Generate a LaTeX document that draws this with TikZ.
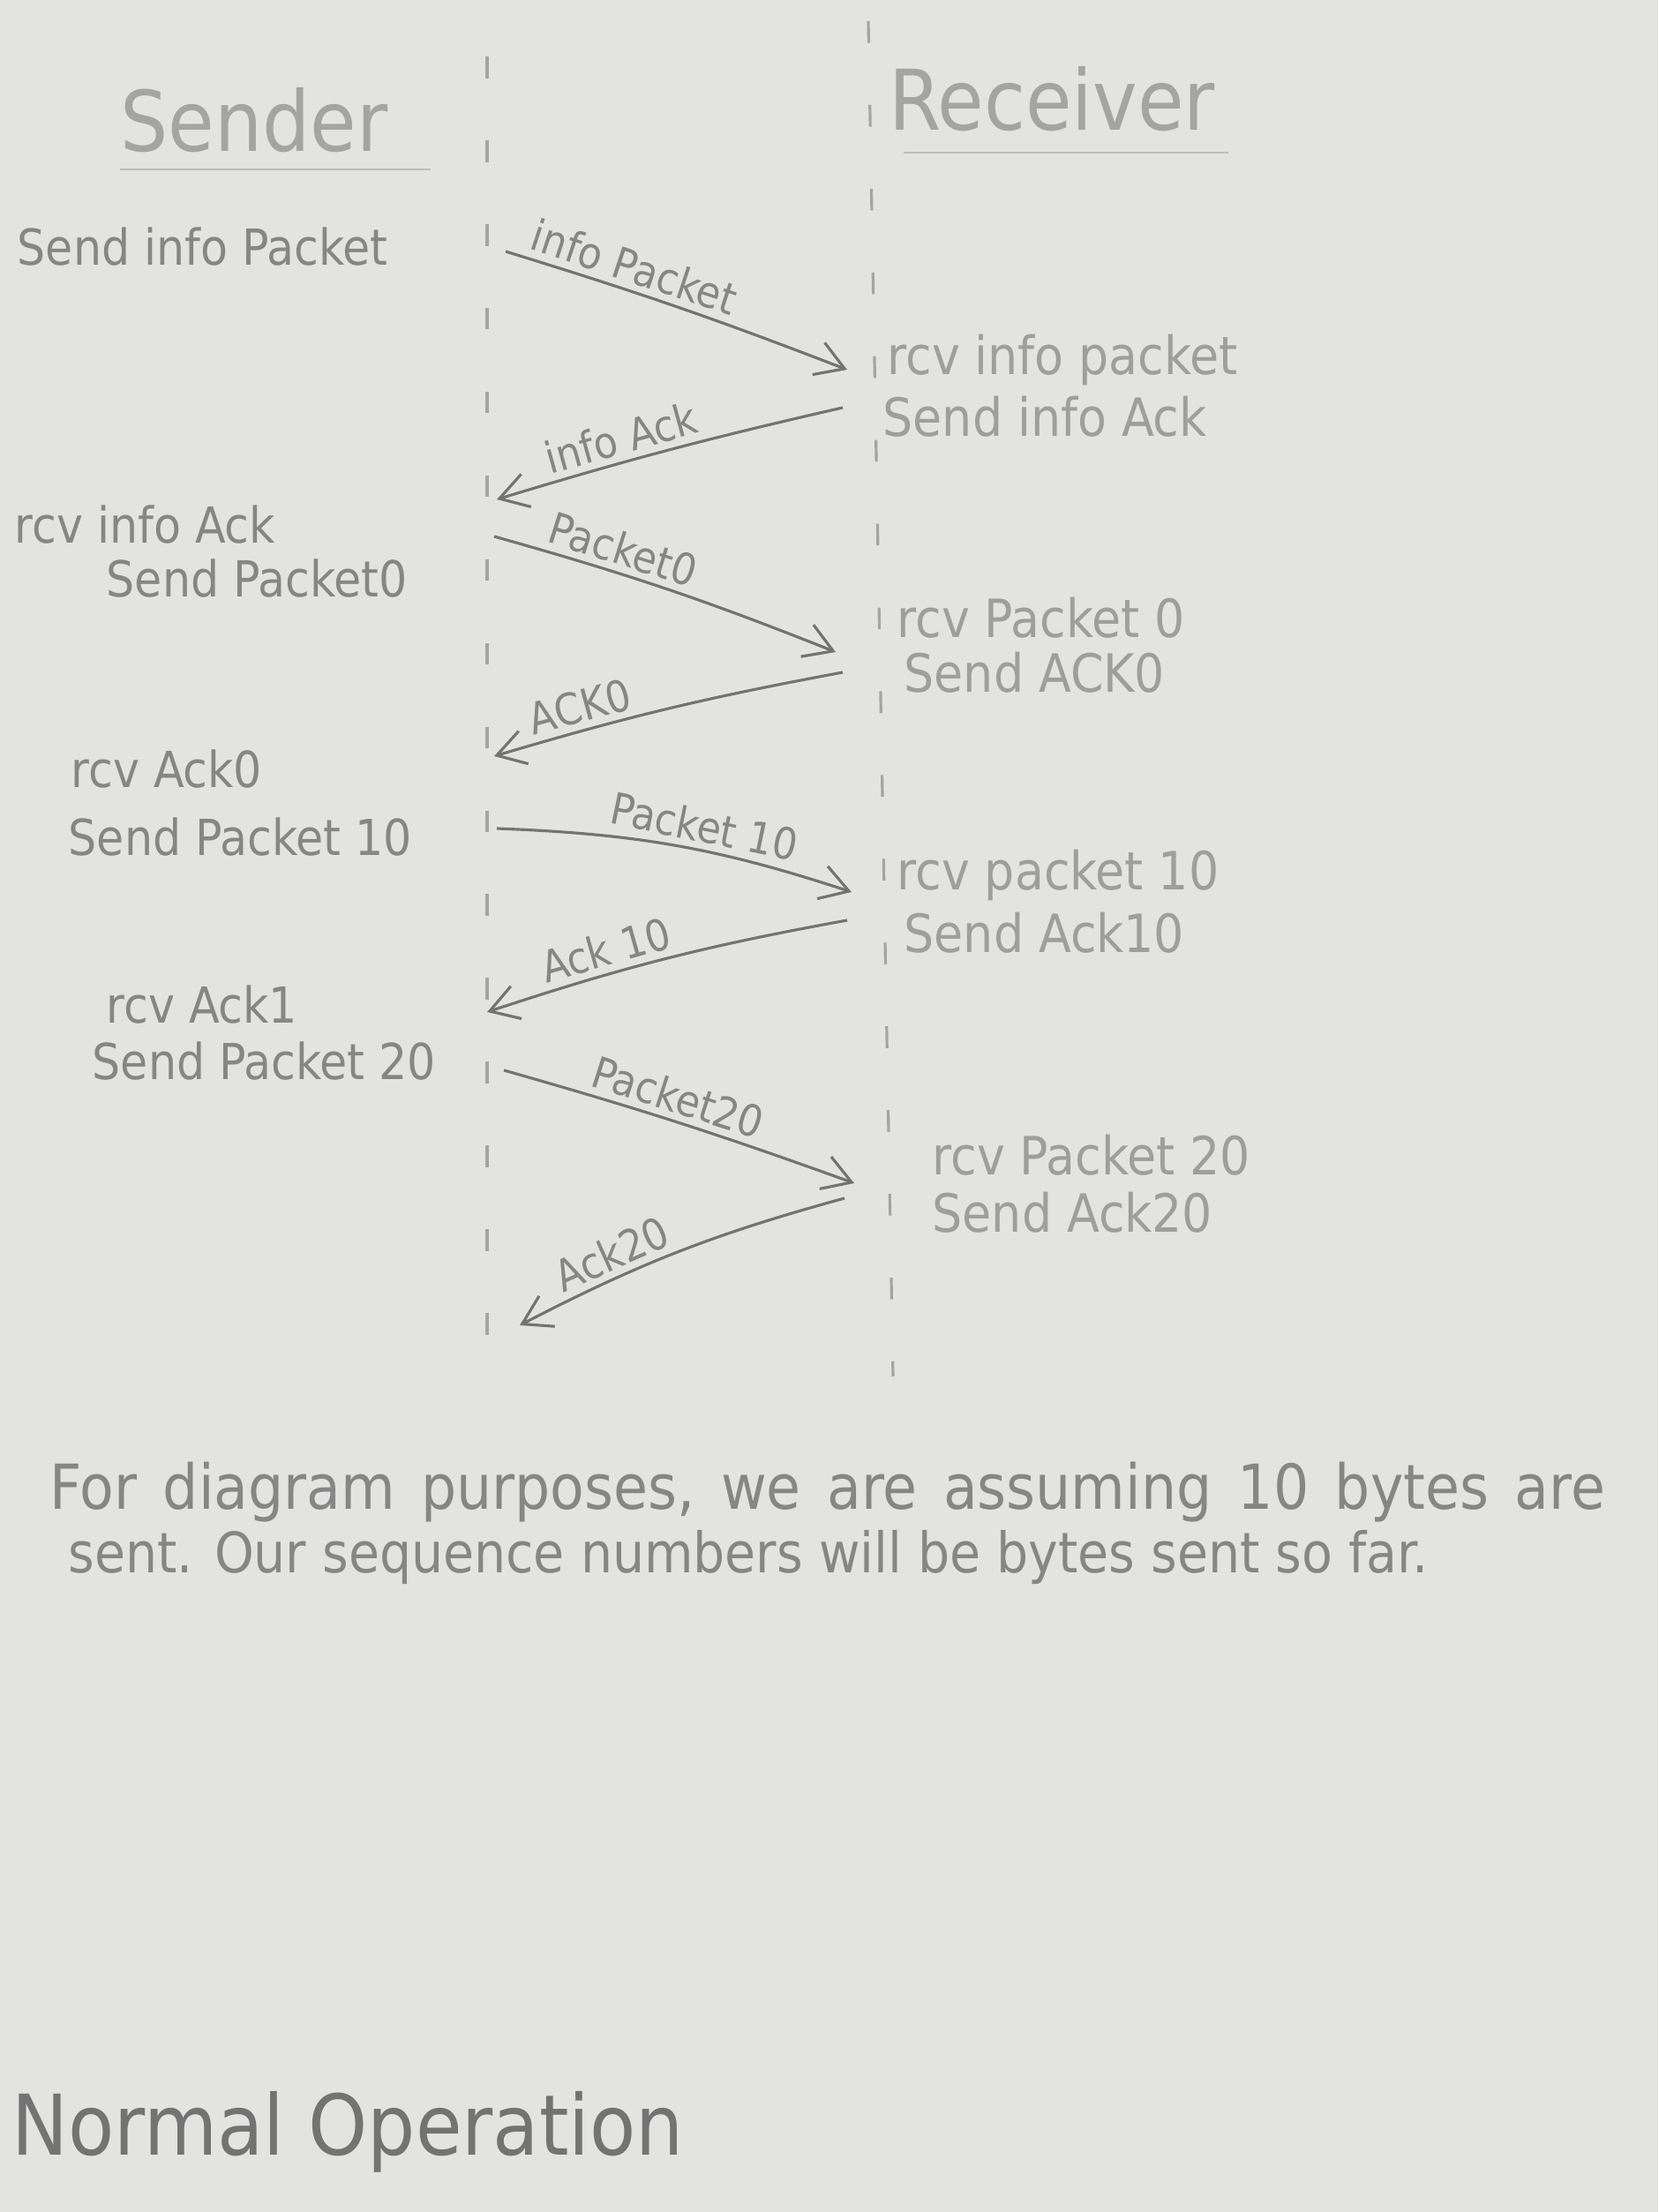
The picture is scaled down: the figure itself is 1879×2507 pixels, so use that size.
\documentclass[tikz,border=0pt]{standalone}
\usepackage{fontspec}
\setmainfont{DejaVu Sans Condensed}
\usepackage{xcolor}
\definecolor{PaperGrey}{HTML}{E3E4E2}
\definecolor{PencilDark}{HTML}{727372}
\definecolor{PencilSoft}{HTML}{858685}
\definecolor{PencilFaint}{HTML}{A4A5A3}
\usetikzlibrary{arrows.meta}

\begin{document}
\begin{tikzpicture}[
        x=0.01cm,y=-0.01cm,
        lifeline/.style={
            draw=PencilFaint,
            line width=0.9pt,
            dash pattern=on 7pt off 20pt
        },
        heading/.style={
            text=PencilFaint,
            inner sep=0pt,
            font=\fontsize{27}{32}\selectfont
        },
        rule/.style={
            draw=PencilFaint!60!PaperGrey,
            line width=0.8pt
        },
        event/.style={
            anchor=west,
            inner sep=0pt,
            text=PencilSoft,
            font=\fontsize{16}{19}\selectfont
        },
        reply/.style={
            event,
            text=PencilFaint!80!PencilSoft,
            font=\fontsize{17}{20}\selectfont
        },
        message/.style={
            -{Straight Barb[length=9pt,width=11pt]},
            line width=0.9pt,
            draw=PencilDark
        },
        msglabel/.style={
            sloped,
            above,
            inner sep=2pt,
            text=PencilSoft,
            font=\fontsize{14}{17}\selectfont
        },
        note/.style={
            anchor=west,
            inner sep=0pt,
            text=PencilSoft,
            font=\fontsize{20}{24}\selectfont
        }
    ]
        \fill[PaperGrey] (0,0) rectangle (1879,2507);
        \useasboundingbox (0,0) rectangle (1879,2507);

        % lifelines
        \coordinate (senderTop) at (552,64);
        \coordinate (senderBot) at (552,1552);
        \coordinate (receiverTop) at (984,24);
        \coordinate (receiverBot) at (1012,1560);
        \draw[lifeline] (senderTop) -- (senderBot);
        \draw[lifeline] (receiverTop) -- (receiverBot);

        \node[heading] (sender) at (288,136) {Sender};
        \node[heading] (receiver) at (1192,112) {Receiver};
        \draw[rule] (136,192) -- (488,192);
        \draw[rule] (1024,173) -- (1392,173);

        % sender side
        \node[event] (sendInfo) at (19,280) {Send info Packet};
        \node[event] (rcvInfoAck) at (16,595) {rcv info Ack};
        \node[event] (sendP0) at (120,656) {Send Packet0};
        \node[event] (rcvAck0) at (80,872) {rcv Ack0};
        \node[event] (sendP10) at (77,949) {Send Packet 10};
        \node[event] (rcvAck1) at (120,1139) {rcv Ack1};
        \node[event] (sendP20) at (104,1203) {Send Packet 20};

        % receiver side
        \node[reply] (rcvInfo) at (1005,408) {rcv info packet};
        \node[reply] (sendInfoAck) at (1000,472) {Send info Ack};
        \node[reply] (rcvP0) at (1016,700) {rcv Packet 0};
        \node[reply] (sendAck0) at (1024,762) {Send ACK0};
        \node[reply] (rcvP10) at (1016,992) {rcv packet 10};
        \node[reply] (sendAck10) at (1024,1057) {Send Ack10};
        \node[reply] (rcvP20) at (1056,1309) {rcv Packet 20};
        \node[reply] (sendAck20) at (1056,1374) {Send Ack20};

        % message end points
        \coordinate (m1a) at (573,285);   \coordinate (m1b) at (960,419);
        \coordinate (m2a) at (955,462);   \coordinate (m2b) at (563,566);
        \coordinate (m3a) at (560,608);   \coordinate (m3b) at (947,739);
        \coordinate (m4a) at (955,762);   \coordinate (m4b) at (560,857);
        \coordinate (m5a) at (563,939);   \coordinate (m5b) at (965,1011);
        \coordinate (m6a) at (960,1043);  \coordinate (m6b) at (552,1147);
        \coordinate (m7a) at (571,1213);  \coordinate (m7b) at (968,1341);
        \coordinate (m8a) at (957,1358);  \coordinate (m8b) at (589,1502);

        \draw[message] (m1a) to[bend left=2] node[msglabel,pos=0.34] {info Packet} (m1b);
        \draw[message] (m2a) to[bend right=2] node[msglabel,pos=0.63] {info Ack} (m2b);
        \draw[message] (m3a) to[bend left=3] node[msglabel,pos=0.34] {Packet0} (m3b);
        \draw[message] (m4a) to[bend right=3] node[msglabel,pos=0.75] {ACK0} (m4b);
        \draw[message] (m5a) to[bend left=8] node[msglabel,pos=0.57] {Packet 10} (m5b);
        \draw[message] (m6a) to[bend right=4] node[msglabel,pos=0.66] {Ack 10} (m6b);
        \draw[message] (m7a) to[bend left=2] node[msglabel,pos=0.47] {Packet20} (m7b);
        \draw[message] (m8a) to[bend right=6] node[msglabel,pos=0.69] {Ack20} (m8b);

        % footnote and caption
        \node[note] (note1) at (56,1691)
            {\spaceskip=0.42em plus 0.05em\relax For diagram purposes, we are assuming 10 bytes are};
        \node[note, font=\fontsize{18}{22}\selectfont] (note2) at (77,1765)
            {sent. Our sequence numbers will be bytes sent so far.};
        \node[note, font=\fontsize{27}{32}\selectfont, text=PencilDark] (caption) at (13,2416)
            {Normal Operation};
    \end{tikzpicture}
\end{document}
